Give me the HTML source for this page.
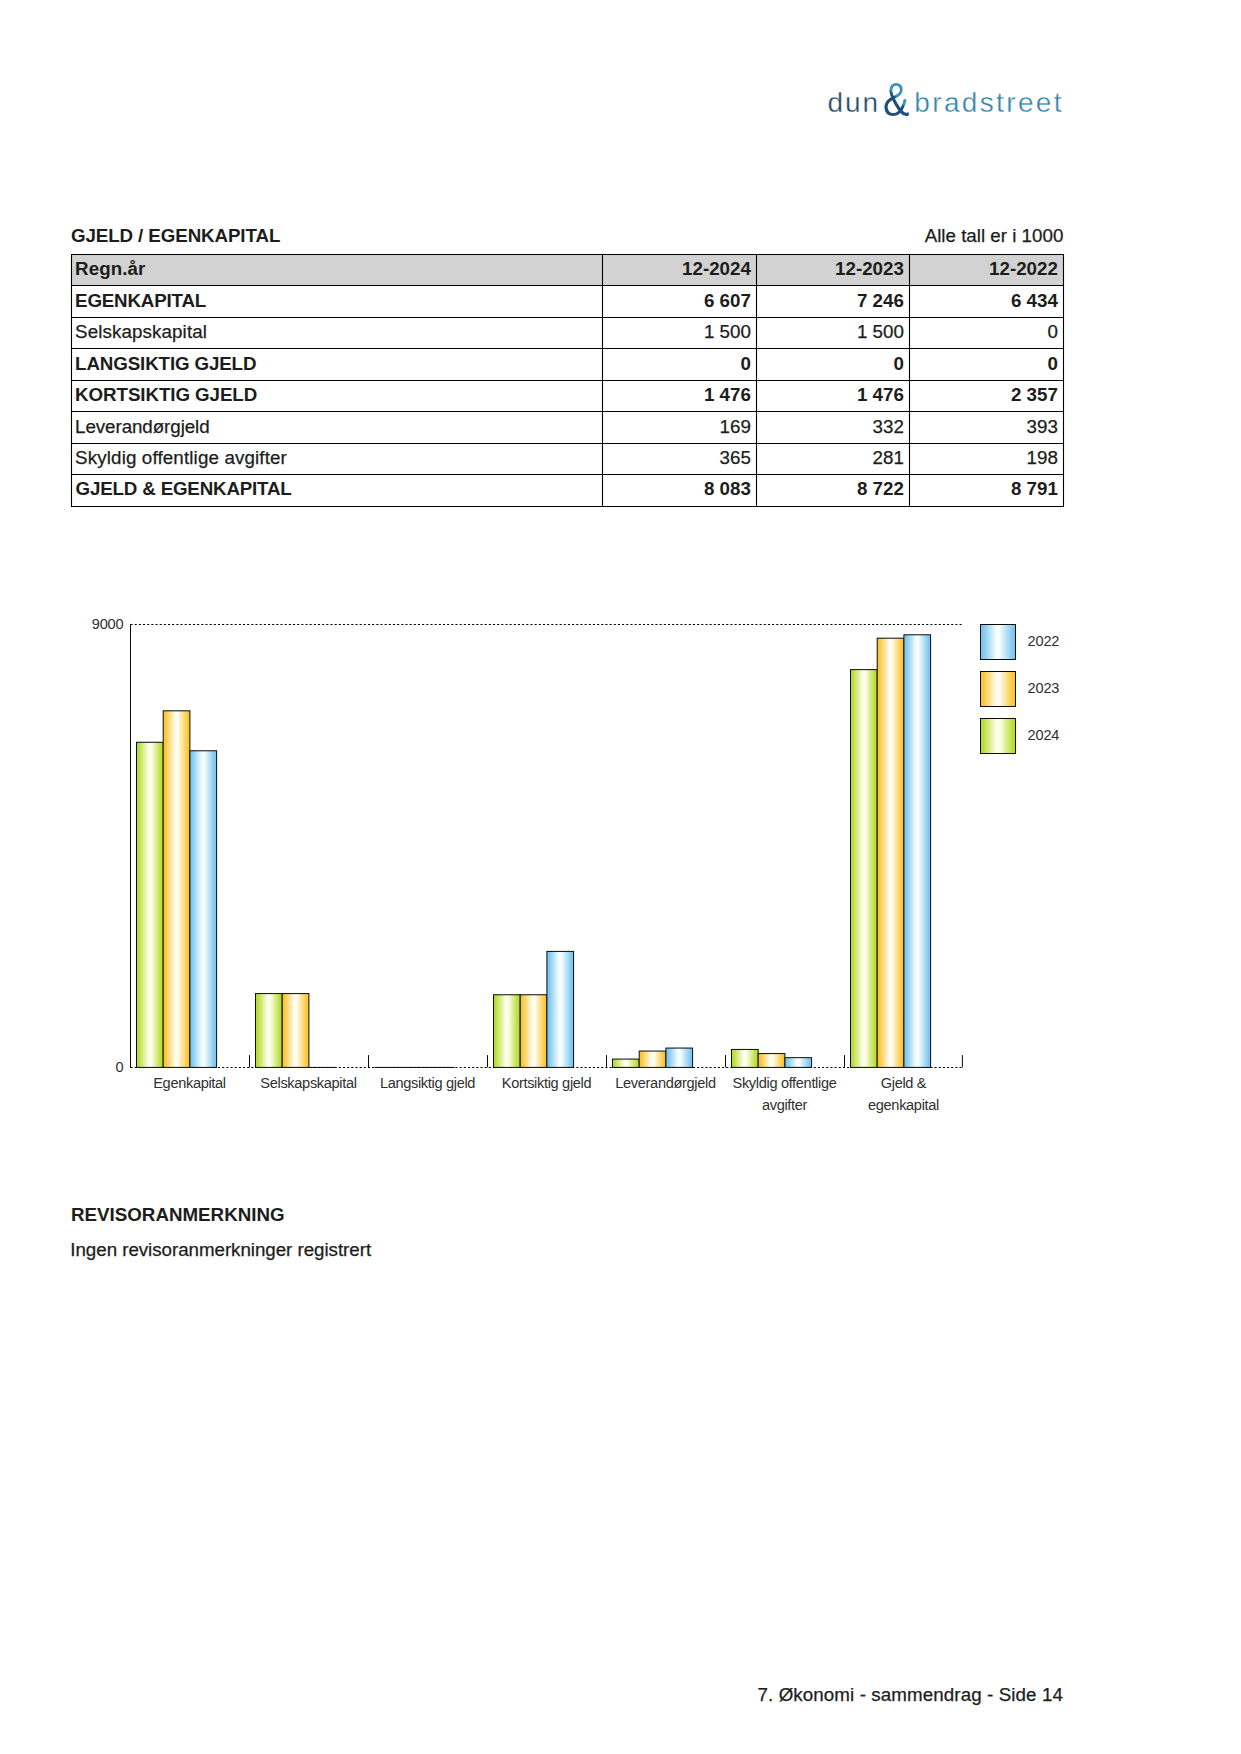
<!DOCTYPE html>
<html lang="no"><head><meta charset="utf-8"><title>7. Økonomi - sammendrag</title><style>
html,body{margin:0;padding:0;background:#fff;}
body{width:1241px;height:1754px;position:relative;overflow:hidden;font-family:"Liberation Sans",sans-serif;color:#1d1d1b;}
.t{position:absolute;line-height:1;white-space:nowrap;}
.ln{position:absolute;background:#1d1d1b;}
.hd{position:absolute;background:#d3d3d3;}
.chart{position:absolute;left:0;top:0;}
.logo{position:absolute;left:0;top:0;white-space:nowrap;}
.logo span{position:absolute;line-height:1;-webkit-text-stroke:0.3px #fff;}
.logo .dun{left:827.5px;top:88.9px;font-size:28px;letter-spacing:1.9px;color:#1f4c70;}
.logo .brad{left:914.3px;top:88.9px;font-size:28px;letter-spacing:2.35px;color:#3786b0;}
.logo .amp{left:883.2px;top:74.5px;font-size:49px;transform:scaleX(0.81);transform-origin:left top;background:linear-gradient(222deg,#3f93b9 0%,#3f93b9 46%,#1d4f7a 49%,#1d4f7a 100%);-webkit-background-clip:text;background-clip:text;color:transparent;-webkit-text-fill-color:transparent;-webkit-text-stroke:0;}
</style></head><body>
<svg class="chart" width="1241" height="1754" viewBox="0 0 1241 1754">
<defs>
<linearGradient id="gG" x1="0" x2="1" y1="0" y2="0"><stop offset="0" stop-color="#b7dd32"/><stop offset="0.07" stop-color="#b7dd32"/><stop offset="0.46" stop-color="#feffee"/><stop offset="0.54" stop-color="#feffee"/><stop offset="0.93" stop-color="#b7dd32"/><stop offset="1" stop-color="#b7dd32"/></linearGradient>
<linearGradient id="gO" x1="0" x2="1" y1="0" y2="0"><stop offset="0" stop-color="#fbc632"/><stop offset="0.07" stop-color="#fbc632"/><stop offset="0.46" stop-color="#fffcf2"/><stop offset="0.54" stop-color="#fffcf2"/><stop offset="0.93" stop-color="#fbc632"/><stop offset="1" stop-color="#fbc632"/></linearGradient>
<linearGradient id="gB" x1="0" x2="1" y1="0" y2="0"><stop offset="0" stop-color="#7cc6ef"/><stop offset="0.07" stop-color="#7cc6ef"/><stop offset="0.46" stop-color="#f6feff"/><stop offset="0.54" stop-color="#f6feff"/><stop offset="0.93" stop-color="#7cc6ef"/><stop offset="1" stop-color="#7cc6ef"/></linearGradient>
</defs>
<rect x="71.5" y="254.5" width="992.0" height="31.0" fill="#d2d2d2"/>
<path d="M70.95 254.5H1064.05M70.95 285.5H1064.05M70.95 317.5H1064.05M70.95 348.5H1064.05M70.95 380.5H1064.05M70.95 411.5H1064.05M70.95 443.5H1064.05M70.95 474.5H1064.05M70.95 506.5H1064.05M71.5 254.5V506.5M602.5 254.5V506.5M756.5 254.5V506.5M909.5 254.5V506.5M1063.5 254.5V506.5" stroke="#000" stroke-width="1.1" fill="none"/>
<path d="M130.5 624.5H962.4M130.5 1067.4H962.4" stroke="#000" stroke-width="1.05" stroke-dasharray="2.083 2.083" fill="none"/>
<path d="M130.5 623.9V1068.0" stroke="#0a0a0a" stroke-width="1.0" fill="none"/>
<path d="M249.50 1055.1000000000001V1067.4M368.50 1055.1000000000001V1067.4M487.50 1055.1000000000001V1067.4M606.50 1055.1000000000001V1067.4M725.50 1055.1000000000001V1067.4M844.50 1055.1000000000001V1067.4M962.4 1055.1000000000001V1067.4" stroke="#0a0a0a" stroke-width="1.0" fill="none"/>
<rect x="136.50" y="742.26" width="26.7" height="325.14" fill="url(#gG)" stroke="#0a0a0a" stroke-width="1.0"/>
<rect x="163.20" y="710.82" width="26.7" height="356.58" fill="url(#gO)" stroke="#0a0a0a" stroke-width="1.0"/>
<rect x="189.90" y="750.78" width="26.7" height="316.62" fill="url(#gB)" stroke="#0a0a0a" stroke-width="1.0"/>
<rect x="255.50" y="993.58" width="26.7" height="73.82" fill="url(#gG)" stroke="#0a0a0a" stroke-width="1.0"/>
<rect x="282.20" y="993.58" width="26.7" height="73.82" fill="url(#gO)" stroke="#0a0a0a" stroke-width="1.0"/>
<path d="M308.90 1067.4h26.7" stroke="#0a0a0a" stroke-width="1.0"/>
<path d="M374.50 1067.4h26.7" stroke="#0a0a0a" stroke-width="1.0"/>
<path d="M401.20 1067.4h26.7" stroke="#0a0a0a" stroke-width="1.0"/>
<path d="M427.90 1067.4h26.7" stroke="#0a0a0a" stroke-width="1.0"/>
<rect x="493.50" y="994.76" width="26.7" height="72.64" fill="url(#gG)" stroke="#0a0a0a" stroke-width="1.0"/>
<rect x="520.20" y="994.76" width="26.7" height="72.64" fill="url(#gO)" stroke="#0a0a0a" stroke-width="1.0"/>
<rect x="546.90" y="951.41" width="26.7" height="115.99" fill="url(#gB)" stroke="#0a0a0a" stroke-width="1.0"/>
<rect x="612.50" y="1059.08" width="26.7" height="8.32" fill="url(#gG)" stroke="#0a0a0a" stroke-width="1.0"/>
<rect x="639.20" y="1051.06" width="26.7" height="16.34" fill="url(#gO)" stroke="#0a0a0a" stroke-width="1.0"/>
<rect x="665.90" y="1048.06" width="26.7" height="19.34" fill="url(#gB)" stroke="#0a0a0a" stroke-width="1.0"/>
<rect x="731.50" y="1049.44" width="26.7" height="17.96" fill="url(#gG)" stroke="#0a0a0a" stroke-width="1.0"/>
<rect x="758.20" y="1053.57" width="26.7" height="13.83" fill="url(#gO)" stroke="#0a0a0a" stroke-width="1.0"/>
<rect x="784.90" y="1057.66" width="26.7" height="9.74" fill="url(#gB)" stroke="#0a0a0a" stroke-width="1.0"/>
<rect x="850.50" y="669.63" width="26.7" height="397.77" fill="url(#gG)" stroke="#0a0a0a" stroke-width="1.0"/>
<rect x="877.20" y="638.18" width="26.7" height="429.22" fill="url(#gO)" stroke="#0a0a0a" stroke-width="1.0"/>
<rect x="903.90" y="634.79" width="26.7" height="432.61" fill="url(#gB)" stroke="#0a0a0a" stroke-width="1.0"/>
<rect x="980.5" y="624.50" width="35" height="35" fill="url(#gB)" stroke="#0a0a0a" stroke-width="1.0"/>
<rect x="980.5" y="671.50" width="35" height="35" fill="url(#gO)" stroke="#0a0a0a" stroke-width="1.0"/>
<rect x="980.5" y="718.50" width="35" height="35" fill="url(#gG)" stroke="#0a0a0a" stroke-width="1.0"/>
</svg>
<div class="logo"><span class="dun">dun</span><span class="amp">&amp;</span><span class="brad">bradstreet</span></div>
<div class="t" style="left:71.00px;top:226.73px;font-size:18.75px;font-weight:700;letter-spacing:-0.1px;">GJELD / EGENKAPITAL</div>
<div class="t" style="right:177.70px;top:226.73px;font-size:18.75px;-webkit-text-stroke:0.25px;">Alle tall er i 1000</div>
<div class="t" style="left:75.10px;top:260.43px;font-size:18.75px;font-weight:700;letter-spacing:0.08px;">Regn.år</div>
<div class="t" style="right:490.10px;top:260.43px;font-size:18.75px;font-weight:700;">12-2024</div>
<div class="t" style="right:337.10px;top:260.43px;font-size:18.75px;font-weight:700;">12-2023</div>
<div class="t" style="right:183.10px;top:260.43px;font-size:18.75px;font-weight:700;">12-2022</div>
<div class="t" style="left:75.10px;top:291.86px;font-size:18.75px;font-weight:700;letter-spacing:-0.19px;">EGENKAPITAL</div>
<div class="t" style="right:490.10px;top:291.86px;font-size:18.75px;font-weight:700;">6 607</div>
<div class="t" style="right:337.10px;top:291.86px;font-size:18.75px;font-weight:700;">7 246</div>
<div class="t" style="right:183.10px;top:291.86px;font-size:18.75px;font-weight:700;">6 434</div>
<div class="t" style="left:75.10px;top:323.29px;font-size:18.75px;-webkit-text-stroke:0.25px;letter-spacing:0.11px;">Selskapskapital</div>
<div class="t" style="right:490.10px;top:323.29px;font-size:18.75px;-webkit-text-stroke:0.25px;">1 500</div>
<div class="t" style="right:337.10px;top:323.29px;font-size:18.75px;-webkit-text-stroke:0.25px;">1 500</div>
<div class="t" style="right:183.10px;top:323.29px;font-size:18.75px;-webkit-text-stroke:0.25px;">0</div>
<div class="t" style="left:75.10px;top:354.72px;font-size:18.75px;font-weight:700;letter-spacing:-0.13px;">LANGSIKTIG GJELD</div>
<div class="t" style="right:490.10px;top:354.72px;font-size:18.75px;font-weight:700;">0</div>
<div class="t" style="right:337.10px;top:354.72px;font-size:18.75px;font-weight:700;">0</div>
<div class="t" style="right:183.10px;top:354.72px;font-size:18.75px;font-weight:700;">0</div>
<div class="t" style="left:75.10px;top:386.15px;font-size:18.75px;font-weight:700;letter-spacing:-0.08px;">KORTSIKTIG GJELD</div>
<div class="t" style="right:490.10px;top:386.15px;font-size:18.75px;font-weight:700;">1 476</div>
<div class="t" style="right:337.10px;top:386.15px;font-size:18.75px;font-weight:700;">1 476</div>
<div class="t" style="right:183.10px;top:386.15px;font-size:18.75px;font-weight:700;">2 357</div>
<div class="t" style="left:75.10px;top:417.58px;font-size:18.75px;-webkit-text-stroke:0.25px;letter-spacing:-0.07px;">Leverandørgjeld</div>
<div class="t" style="right:490.10px;top:417.58px;font-size:18.75px;-webkit-text-stroke:0.25px;">169</div>
<div class="t" style="right:337.10px;top:417.58px;font-size:18.75px;-webkit-text-stroke:0.25px;">332</div>
<div class="t" style="right:183.10px;top:417.58px;font-size:18.75px;-webkit-text-stroke:0.25px;">393</div>
<div class="t" style="left:75.10px;top:449.01px;font-size:18.75px;-webkit-text-stroke:0.25px;letter-spacing:0.14px;">Skyldig offentlige avgifter</div>
<div class="t" style="right:490.10px;top:449.01px;font-size:18.75px;-webkit-text-stroke:0.25px;">365</div>
<div class="t" style="right:337.10px;top:449.01px;font-size:18.75px;-webkit-text-stroke:0.25px;">281</div>
<div class="t" style="right:183.10px;top:449.01px;font-size:18.75px;-webkit-text-stroke:0.25px;">198</div>
<div class="t" style="left:75.60px;top:480.44px;font-size:18.75px;font-weight:700;letter-spacing:-0.18px;">GJELD &amp; EGENKAPITAL</div>
<div class="t" style="right:490.10px;top:480.44px;font-size:18.75px;font-weight:700;">8 083</div>
<div class="t" style="right:337.10px;top:480.44px;font-size:18.75px;font-weight:700;">8 722</div>
<div class="t" style="right:183.10px;top:480.44px;font-size:18.75px;font-weight:700;">8 791</div>
<div class="t" style="left:1027.60px;top:634.06px;font-size:14.58px;color:#303030;letter-spacing:-0.2px;">2022</div>
<div class="t" style="left:1027.60px;top:681.06px;font-size:14.58px;color:#303030;letter-spacing:-0.2px;">2023</div>
<div class="t" style="left:1027.60px;top:728.06px;font-size:14.58px;color:#303030;letter-spacing:-0.2px;">2024</div>
<div class="t" style="right:1117.60px;top:617.26px;font-size:14.58px;color:#303030;letter-spacing:-0.2px;">9000</div>
<div class="t" style="right:1117.60px;top:1060.16px;font-size:14.58px;color:#303030;letter-spacing:-0.2px;">0</div>
<div class="t" style="left:89.50px;top:1075.96px;font-size:14.58px;color:#303030;letter-spacing:-0.33px;width:200px;text-align:center;">Egenkapital</div>
<div class="t" style="left:208.50px;top:1075.96px;font-size:14.58px;color:#303030;letter-spacing:-0.33px;width:200px;text-align:center;">Selskapskapital</div>
<div class="t" style="left:327.50px;top:1075.96px;font-size:14.58px;color:#303030;letter-spacing:-0.33px;width:200px;text-align:center;">Langsiktig gjeld</div>
<div class="t" style="left:446.50px;top:1075.96px;font-size:14.58px;color:#303030;letter-spacing:-0.33px;width:200px;text-align:center;">Kortsiktig gjeld</div>
<div class="t" style="left:565.50px;top:1075.96px;font-size:14.58px;color:#303030;letter-spacing:-0.33px;width:200px;text-align:center;">Leverandørgjeld</div>
<div class="t" style="left:684.50px;top:1075.96px;font-size:14.58px;color:#303030;letter-spacing:-0.33px;width:200px;text-align:center;">Skyldig offentlige</div>
<div class="t" style="left:684.50px;top:1098.06px;font-size:14.58px;color:#303030;letter-spacing:-0.33px;width:200px;text-align:center;">avgifter</div>
<div class="t" style="left:803.50px;top:1075.96px;font-size:14.58px;color:#303030;letter-spacing:-0.33px;width:200px;text-align:center;">Gjeld &amp;</div>
<div class="t" style="left:803.50px;top:1098.06px;font-size:14.58px;color:#303030;letter-spacing:-0.33px;width:200px;text-align:center;">egenkapital</div>
<div class="t" style="left:71.00px;top:1206.13px;font-size:18.75px;font-weight:700;">REVISORANMERKNING</div>
<div class="t" style="left:70.30px;top:1241.03px;font-size:18.75px;-webkit-text-stroke:0.25px;letter-spacing:-0.04px;">Ingen revisoranmerkninger registrert</div>
<div class="t" style="right:178.00px;top:1686.33px;font-size:18.75px;-webkit-text-stroke:0.25px;letter-spacing:0.1px;">7. Økonomi - sammendrag - Side 14</div>
</body></html>
